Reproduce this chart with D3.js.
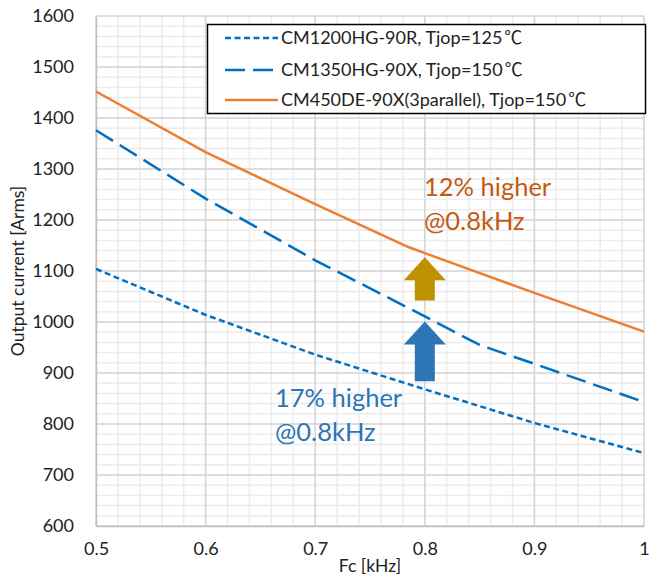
<!DOCTYPE html>
<html>
<head>
<meta charset="utf-8">
<script src="https://cdn.jsdelivr.net/npm/d3@7"></script>
<style>
  body { margin: 0; background: #fff; }
  text { font-family: Lato, "Open Sans", sans-serif; }
  .cjk { font-family: "Noto Sans CJK JP", sans-serif; }
</style>
</head>
<body>
<div id="chart"></div>
<script>
// chart values
const freqA = [0.5, 0.6, 0.7, 0.8, 0.9, 1.0];
const currA = [1104, 1014, 936, 868, 802, 743];          // CM1200HG-90R
const freqB = [0.5, 0.6, 0.7, 0.8, 0.85, 0.9, 1.0];
const currB = [1376, 1242, 1121, 1011, 955, 918, 843];   // CM1350HG-90X
const freqC = [0.5, 0.6, 0.7, 0.785, 0.8, 0.9, 1.0];
const currC = [1452, 1333, 1231, 1147, 1135, 1057, 981]; // CM450DE-90X x3
const seriesNames = [
  "CM1200HG-90R, Tjop=125",
  "CM1350HG-90X, Tjop=150",
  "CM450DE-90X(3parallel), Tjop=150"
];
const unit = "\u2103";
const xTicks = [0.5, 0.6, 0.7, 0.8, 0.9, 1.0];
const yTicks = [600, 700, 800, 900, 1000, 1100, 1200, 1300, 1400, 1500, 1600];
// arrows at 0.8 kHz: [x, from, to]
const arrowGold = [0.8, 1042, 1127];
const arrowBlue = [0.8, 884, 1001];

const width = 650, height = 576;
const margin = {top: 16, right: 6, bottom: 50, left: 96};

const svg = d3.select("#chart").append("svg")
  .attr("width", width)
  .attr("height", height);

const x = d3.scaleLinear().domain([0.5, 1.0]).range([margin.left, width - margin.right]);
const y = d3.scaleLinear().domain([600, 1600]).range([height - margin.bottom, margin.top]);

// minor grid
svg.append("g")
  .selectAll("line")
  .data(d3.range(0.5, 1.0001, 0.02))
  .join("line")
  .attr("x1", d => x(d)).attr("x2", d => x(d))
  .attr("y1", y(600)).attr("y2", y(1600))
  .attr("stroke", "#ececec").attr("stroke-width", 1.5);
svg.append("g")
  .selectAll("line")
  .data(d3.range(600, 1601, 20))
  .join("line")
  .attr("y1", d => y(d)).attr("y2", d => y(d))
  .attr("x1", x(0.5)).attr("x2", x(1.0))
  .attr("stroke", "#ececec").attr("stroke-width", 1.5);

// major grid
svg.append("g")
  .selectAll("line")
  .data(xTicks)
  .join("line")
  .attr("x1", d => x(d)).attr("x2", d => x(d))
  .attr("y1", y(600)).attr("y2", y(1600))
  .attr("stroke", "#d6d6d6").attr("stroke-width", 1.5);
svg.append("g")
  .selectAll("line")
  .data(yTicks)
  .join("line")
  .attr("y1", d => y(d)).attr("y2", d => y(d))
  .attr("x1", x(0.5)).attr("x2", x(1.0))
  .attr("stroke", "#d6d6d6").attr("stroke-width", 1.5);

// axes
const yAxis = svg.append("g")
  .attr("transform", `translate(${margin.left},0)`)
  .call(d3.axisLeft(y).tickValues(yTicks).tickFormat(d3.format("d")).tickSize(0).tickPadding(22));
yAxis.select(".domain").attr("stroke", "#bfbfbf").attr("stroke-width", 1.5);
yAxis.selectAll("text").attr("font-size", 18).attr("fill", "#222")
  .style("font-family", "Lato, sans-serif");

const xAxis = svg.append("g")
  .attr("transform", `translate(0,${height - margin.bottom})`)
  .call(d3.axisBottom(x).tickValues(xTicks).tickFormat(d => d === 1 ? "1" : d3.format(".1f")(d)).tickSize(0).tickPadding(16));
xAxis.select(".domain").attr("stroke", "#bfbfbf").attr("stroke-width", 1.5);
xAxis.selectAll("text").attr("font-size", 18).attr("fill", "#222")
  .style("font-family", "Lato, sans-serif");

// axis titles
svg.append("text")
  .attr("x", (x(0.5) + x(1.0)) / 2)
  .attr("y", 572)
  .attr("text-anchor", "middle")
  .attr("font-size", 17.5)
  .attr("fill", "#222")
  .text("Fc [kHz]");
svg.append("text")
  .attr("transform", `translate(24,${(y(600) + y(1600)) / 2}) rotate(-90)`)
  .attr("text-anchor", "middle")
  .attr("font-size", 17.5)
  .attr("fill", "#222")
  .text("Output current [Arms]");

// lines
const line = d3.line().x(d => x(d[0])).y(d => y(d[1]));
const series = [
  {pts: d3.zip(freqA, currA), color: "#0070c0", dash: "6,3.5"},
  {pts: d3.zip(freqB, currB), color: "#0070c0", dash: "20,8"},
  {pts: d3.zip(freqC, currC), color: "#ed7d31", dash: null}
];
svg.append("g")
  .selectAll("path")
  .data(series)
  .join("path")
  .attr("d", d => line(d.pts))
  .attr("fill", "none")
  .attr("stroke", d => d.color)
  .attr("stroke-width", 2.5)
  .attr("stroke-dasharray", d => d.dash);

// block arrows
function blockArrow(a, color) {
  const cx = x(a[0]), yb = y(a[1]), yt = y(a[2]);
  const shaft = 10, head = 21, headLen = 23;
  const p = [
    [cx - shaft, yb], [cx - shaft, yt + headLen], [cx - head, yt + headLen],
    [cx, yt], [cx + head, yt + headLen], [cx + shaft, yt + headLen], [cx + shaft, yb]
  ];
  svg.append("path")
    .attr("d", d3.line()(p) + "Z")
    .attr("fill", color);
}
blockArrow(arrowGold, "#bf9000");
blockArrow(arrowBlue, "#2e75b6");

// annotations
const noteOrange = svg.append("text").attr("font-size", 25.5).attr("fill", "#c55a11");
noteOrange.append("tspan").attr("x", 424).attr("y", 196).text("12% higher");
noteOrange.append("tspan").attr("x", 424).attr("y", 230).text("@0.8kHz");
const noteBlue = svg.append("text").attr("font-size", 25.5).attr("fill", "#2e75b6");
noteBlue.append("tspan").attr("x", 275).attr("y", 407).text("17% higher");
noteBlue.append("tspan").attr("x", 275).attr("y", 441).text("@0.8kHz");

// legend
const legend = svg.append("g");
legend.append("rect")
  .attr("x", 207.5).attr("y", 24.5)
  .attr("width", 438).attr("height", 89)
  .attr("fill", "#fff").attr("stroke", "#000").attr("stroke-width", 1.5);
const rows = legend.selectAll("g")
  .data(series)
  .join("g")
  .attr("transform", (d, i) => `translate(0,${[38, 70, 100][i]})`);
rows.append("line")
  .attr("x1", 225).attr("x2", 278)
  .attr("stroke", d => d.color).attr("stroke-width", 2.5)
  .attr("stroke-dasharray", d => d.dash);
const labels = rows.append("text")
  .attr("x", 281).attr("dy", "0.35em")
  .attr("font-size", 18).attr("fill", "#222");
labels.append("tspan").text((d, i) => seriesNames[i]);
labels.append("tspan").attr("class", "cjk").attr("dx", 2).text(unit);
</script>
</body>
</html>
